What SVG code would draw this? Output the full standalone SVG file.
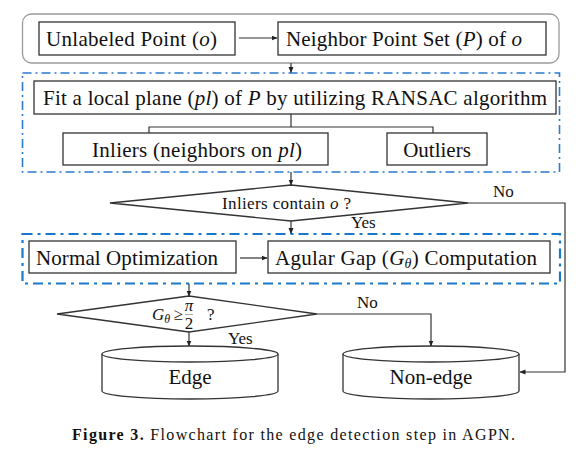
<svg xmlns="http://www.w3.org/2000/svg" width="584" height="459" viewBox="0 0 584 459">
<defs>
<marker id="ah" markerWidth="6" markerHeight="6" refX="5.5" refY="3" orient="auto" markerUnits="userSpaceOnUse">
<path d="M0,0.5 L6,3 L0,5.5 Z" fill="#222"/>
</marker>
<style>
.box{fill:#fff;stroke:#333;stroke-width:1.3}
.t{font-family:Liberation Serif,Tinos,DejaVu Serif,serif;font-size:21px;fill:#111}
.s{font-family:Liberation Serif,Tinos,DejaVu Serif,serif;font-size:17px;fill:#111}
.m{font-style:italic}
.c{fill:none;stroke:#333;stroke-width:1.2}
.ca{fill:none;stroke:#333;stroke-width:1.2;marker-end:url(#ah)}
.dash1{fill:none;stroke:#2b7bd0;stroke-width:1.6;stroke-dasharray:9 4 2 4}
.dash2{fill:none;stroke:#1a78c8;stroke-width:2.2;stroke-dasharray:10 5 3 5}
.cyl{fill:#fff;stroke:#333;stroke-width:1.3}
</style>
</defs>
<rect width="584" height="459" fill="#fff"/>

<g id="group-top">
<rect x="22.5" y="14" width="536.5" height="49" rx="9" fill="#fff" stroke="#9a9a9a" stroke-width="1.3"/>
</g>
<g id="group-ransac">
<rect x="22.5" y="73" width="537" height="99" class="dash1"/>
</g>
<g id="group-normal">
<rect x="22.5" y="234" width="537.5" height="49.5" class="dash2"/>
</g>

<g id="node-unlabeled">
<rect x="39" y="22" width="196" height="33" class="box"/>
<text x="46" y="46" class="t" textLength="171" lengthAdjust="spacing">Unlabeled Point (<tspan class="m">o</tspan>)</text>
</g>
<g id="node-neighbor">
<rect x="278" y="22" width="268" height="33" class="box"/>
<text x="286" y="46" class="t" textLength="236" lengthAdjust="spacing">Neighbor Point Set (<tspan class="m">P</tspan>) of <tspan class="m">o</tspan></text>
</g>
<g id="node-fit">
<rect x="34" y="81" width="522" height="33" class="box"/>
<text x="43" y="105" class="t" textLength="504" lengthAdjust="spacing">Fit a local plane (<tspan class="m">pl</tspan>) of <tspan class="m">P</tspan> by utilizing RANSAC algorithm</text>
</g>
<g id="node-inliers">
<rect x="63" y="133" width="265" height="32" class="box"/>
<text x="92" y="157" class="t" textLength="210" lengthAdjust="spacing">Inliers (neighbors on <tspan class="m">pl</tspan>)</text>
</g>
<g id="node-outliers">
<rect x="387" y="133" width="100" height="32" class="box"/>
<text x="437" y="157" class="t" text-anchor="middle">Outliers</text>
</g>
<g id="node-decision1">
<polygon points="110,203 291,185 468,203 291,221" class="box"/>
<text x="222" y="208.5" class="s" textLength="129" lengthAdjust="spacing">Inliers contain <tspan class="m">o</tspan> ?</text>
</g>
<g id="node-normalopt">
<rect x="29" y="241" width="207" height="32" class="box"/>
<text x="36" y="264.5" class="t" textLength="182" lengthAdjust="spacing">Normal Optimization</text>
</g>
<g id="node-gap">
<rect x="268" y="241" width="282" height="32" class="box"/>
<text x="275" y="264.5" class="t" textLength="262" lengthAdjust="spacing">Agular Gap (<tspan class="m">G</tspan><tspan class="m" font-size="14" dy="3">θ</tspan><tspan dy="-3">) Computation</tspan></text>
</g>
<g id="node-decision2">
<polygon points="57,314 189,296 317,314 189,332" class="box"/>
<text x="152" y="320" class="s m">G<tspan font-size="12" dy="3">θ</tspan></text>
<text x="173.5" y="320" class="s">≥</text>
<text x="189" y="310.5" class="s m" font-size="11.5" text-anchor="middle">π</text>
<line x1="185" y1="314.5" x2="193" y2="314.5" stroke="#555" stroke-width="0.5"/>
<text x="189" y="328.5" class="s" font-size="11.5" text-anchor="middle">2</text>
<text x="207" y="320" class="s">?</text>
</g>
<g id="node-edge">
<path d="M102,354 V391 A88,8 0 0 0 278,391 V354" class="cyl"/>
<ellipse cx="190" cy="354" rx="88" ry="8" class="cyl"/>
<text x="190" y="384" class="t" text-anchor="middle">Edge</text>
</g>
<g id="node-nonedge">
<path d="M343,354 V391 A88,8 0 0 0 519,391 V354" class="cyl"/>
<ellipse cx="431" cy="354" rx="88" ry="8" class="cyl"/>
<text x="431" y="384" class="t" text-anchor="middle">Non-edge</text>
</g>

<g id="connectors">
<line x1="239" y1="38" x2="277" y2="38" class="ca"/>
<line x1="291" y1="63" x2="291" y2="72.5" class="ca"/>
<path d="M291,114 V127 M149,133 V127 H433 V133" class="c"/>
<line x1="291" y1="172" x2="291" y2="185" class="ca"/>
<path d="M468,203 H565 V372 H520" class="ca"/>
<line x1="291" y1="221" x2="291" y2="233.5" class="ca"/>
<line x1="240" y1="258" x2="267" y2="258" class="ca"/>
<line x1="189" y1="283.5" x2="189" y2="296" class="ca"/>
<path d="M317,314 H431 V346" class="ca"/>
<line x1="189" y1="332" x2="189" y2="346" class="ca"/>
</g>

<g id="labels">
<text x="493" y="197" class="s" font-size="17.5">No</text>
<text x="351" y="228" class="s" font-size="16.5">Yes</text>
<text x="357" y="308" class="s" font-size="17.5">No</text>
<text x="228" y="344" class="s" font-size="16.5">Yes</text>
</g>

<text x="72" y="440" font-family="Liberation Serif, Tinos, DejaVu Serif, serif" font-size="16" fill="#111" textLength="443" lengthAdjust="spacing"><tspan font-weight="bold">Figure 3.</tspan> Flowchart for the edge detection step in AGPN.</text>
</svg>
